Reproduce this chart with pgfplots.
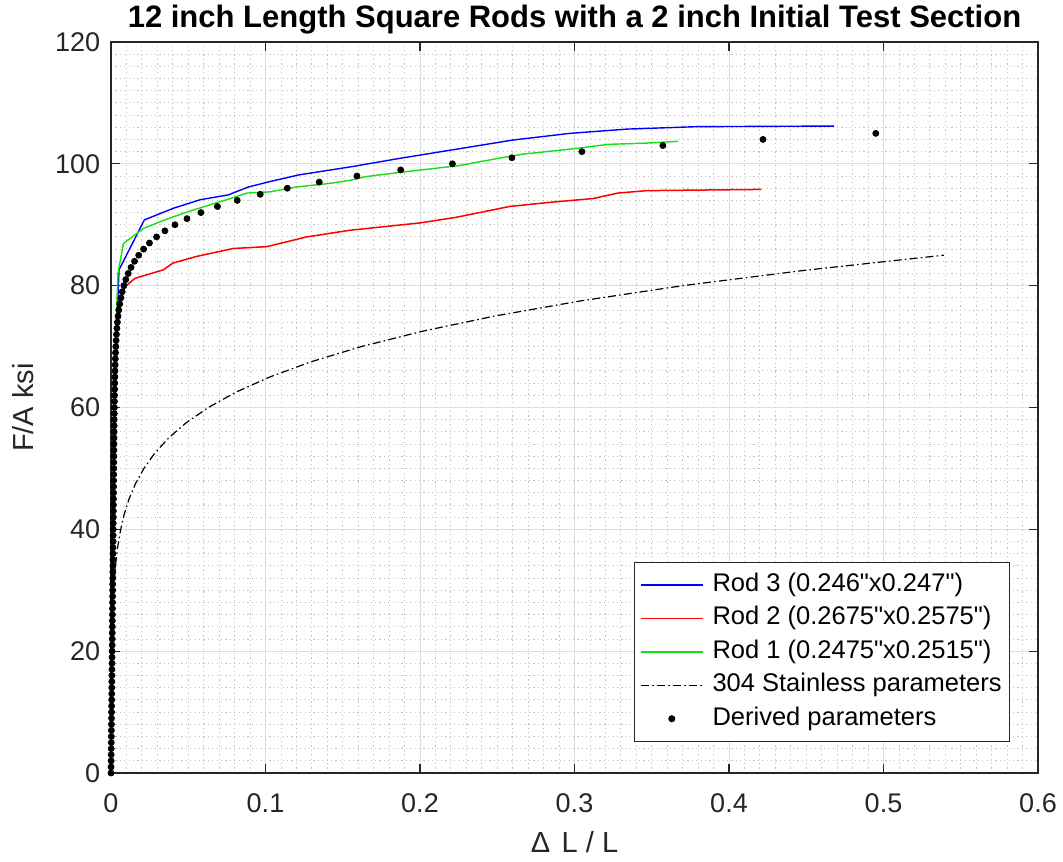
\documentclass[border=0pt]{standalone}
\usepackage{fontspec}
\setmainfont{Liberation Sans}[Ligatures=TeXOff]
\usepackage{pgfplots}
\pgfplotsset{compat=1.18}
\definecolor{axgray}{RGB}{38,38,38}
\definecolor{mgreen}{RGB}{20,225,20}
\begin{document}
\begin{tikzpicture}
\begin{axis}[
  name=ax,
  width=463.5pt, height=365.5pt, scale only axis,
  xmin=0, xmax=0.6, ymin=0, ymax=120,
  xtick={0,0.1,0.2,0.3,0.4,0.5,0.6},
  ytick={0,20,40,60,80,100,120},
  minor x tick num=9, minor y tick num=9,
  grid=both,
  major grid style={draw=black!13, line width=0.5pt},
  minor grid style={draw=black!24, line width=0.45pt, dash pattern=on 0.6pt off 1.6pt},
  tick align=inside, major tick length=4.5pt, minor tick length=0pt,
  axis line style={draw=axgray, line width=0.6pt},
  tick style={draw=axgray, line width=0.6pt},
  /pgf/number format/assume math mode=true,
  ticklabel style={font=\fontsize{13.5}{16}\selectfont, text=axgray},
  xticklabel style={yshift=-6.6pt},
  yticklabel style={xshift=-1.9pt},
  xlabel={Δ\hspace{0.12em} L / L},
  ylabel={F/A ksi},
  xlabel style={at={(axis description cs:0.5,-0.095)}, anchor=center, font=\fontsize{14.5}{17}\selectfont, text=axgray},
  ylabel style={at={(axis description cs:-0.095,0.5)}, anchor=center, font=\fontsize{14.5}{17}\selectfont, text=axgray},
  clip=false,
  legend cell align=left,
  legend image code/.code={\draw[mark repeat=2,mark phase=2,#1] plot coordinates {(0pt,0pt) (15.5pt,0pt) (31pt,0pt)};},
  legend style={at={(0.97,0.0425)}, anchor=south east, draw=axgray, line width=0.5pt, fill=white,
    font=\fontsize{12.75}{15}\selectfont, inner xsep=3pt, inner ysep=4pt, row sep=2pt, column sep=3.5pt,
    nodes={inner sep=1pt, text height=9.5pt, text depth=3.2pt}},
]
\addplot[blue, line width=0.7pt] coordinates {
(0,0)(0.0025,60)(0.004,75)(0.0052,82.6)(0.0216,90.8)(0.0403,92.7)(0.0576,94.1)(0.0759,94.9)(0.0889,96.2)(0.103,97.1)(0.122,98.2)(0.155,99.5)(0.187,100.9)(0.260,103.9)(0.297,105.0)(0.334,105.7)(0.379,106.1)(0.468,106.2)};
\addlegendentry{Rod 3 (0.246"x0.247")}
\addplot[red, line width=0.75pt] coordinates {
(0,0)(0.0025,60)(0.004,72)(0.006,77.5)(0.009,79.8)(0.0155,81.2)(0.0339,82.6)(0.040,83.7)(0.0554,84.8)(0.079,86.1)(0.1008,86.4)(0.1266,88.0)(0.1547,89.1)(0.2,90.3)(0.223,91.2)(0.258,93.0)(0.285,93.7)(0.312,94.3)(0.328,95.2)(0.347,95.6)(0.421,95.8)};
\addlegendentry{Rod 2 (0.2675"x0.2575")}
\addplot[mgreen, line width=0.7pt] coordinates {
(0,0)(0.0025,60)(0.0035,75)(0.0045,82)(0.008,86.9)(0.021,89.4)(0.038,91.1)(0.053,92.4)(0.076,94.2)(0.088,95.2)(0.103,95.4)(0.12,96.2)(0.142,96.8)(0.155,97.3)(0.165,97.9)(0.187,98.6)(0.225,99.7)(0.255,101.1)(0.267,101.6)(0.30,102.5)(0.322,103.2)(0.347,103.4)(0.367,103.7)};
\addlegendentry{Rod 1 (0.2475"x0.2515")}
\addplot[black, line width=0.6pt, dash pattern=on 4pt off 1.6pt on 0.8pt off 1.6pt] coordinates {
(0,0)(0.00036,10)(0.00078,20)(0.00115,25)(0.00187,30)(0.00248,32.5)(0.0033,35)(0.00457,37.5)(0.0063,40)(0.00857,42.5)(0.0117,45)(0.01584,47.5)(0.0213,50)(0.0283,52.5)(0.0373,55)(0.0487,57.5)(0.063,60)(0.0807,62.5)(0.1027,65)(0.1294,67.5)(0.162,70)(0.2013,72.5)(0.248,75)(0.304,77.5)(0.370,80)(0.4484,82.5)(0.539,85)};
\addlegendentry{304 Stainless parameters}
\addplot[only marks, mark=*, mark size=1.5pt, black] coordinates {
(0,0)(0.00004,1)(0.00007,2)(0.00011,3)(0.00014,4)(0.00018,5)(0.00021,6)(0.00025,7)(0.00029,8)(0.00032,9)(0.00036,10)(0.00039,11)(0.00043,12)(0.00046,13)(0.0005,14)(0.00054,15)(0.00057,16)(0.00061,17)(0.00064,18)(0.00068,19)(0.00071,20)(0.00075,21)(0.00079,22)(0.00082,23)(0.00086,24)(0.00089,25)(0.00093,26)(0.00096,27)(0.001,28)(0.00104,29)(0.00107,30)(0.00111,31)(0.00114,32)(0.00118,33)(0.00121,34)(0.00125,35)(0.00129,36)(0.00132,37)(0.00136,38)(0.00139,39)(0.00143,40)(0.00146,41)(0.0015,42)(0.00154,43)(0.00157,44)(0.00161,45)(0.00164,46)(0.00168,47)(0.00171,48)(0.00175,49)(0.00179,50)(0.00182,51)(0.00186,52)(0.00189,53)(0.00193,54)(0.00196,55)(0.002,56)(0.00204,57)(0.00207,58)(0.00215,59)(0.00219,60)(0.00224,61)(0.00229,62)(0.00236,63)(0.00243,64)(0.0025,65)(0.00259,66)(0.00268,67)(0.0028,68)(0.00294,69)(0.0031,70)(0.0033,71)(0.00353,72)(0.00382,73)(0.00415,74)(0.00457,75)(0.00505,76)(0.00566,77)(0.00639,78)(0.00726,79)(0.00833,80)(0.00961,81)(0.01115,82)(0.01299,83)(0.01523,84)(0.01792,85)(0.0211,86)(0.0249,87)(0.0295,88)(0.0349,89)(0.0414,90)(0.0492,91)(0.0582,92)(0.0689,93)(0.0817,94)(0.0966,95)(0.1141,96)(0.1348,97)(0.1592,98)(0.1875,99)(0.221,100)(0.2595,101)(0.3048,102)(0.3572,103)(0.422,104)(0.495,105)};
\addlegendentry{Derived parameters}
\end{axis}
\node[font=\bfseries\fontsize{15.5}{18}\selectfont, anchor=center, inner sep=0pt] at ([yshift=11pt]ax.north) {12 inch Length Square Rods with a 2 inch Initial Test Section};
\pgfresetboundingbox
\path ([shift={(-55.5pt,-44pt)}]ax.south west) rectangle ([shift={(12.5pt,21pt)}]ax.north east);
\end{tikzpicture}
\end{document}
